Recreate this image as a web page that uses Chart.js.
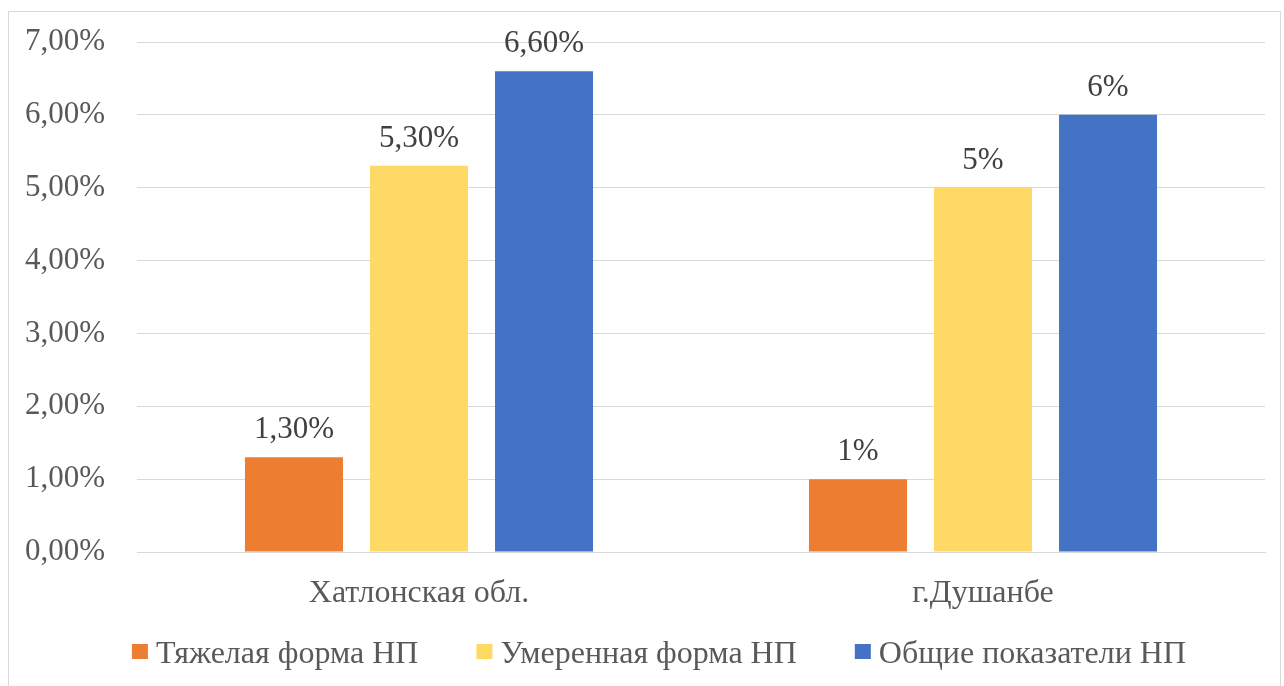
<!DOCTYPE html>
<html>
<head>
<meta charset="utf-8">
<script src="https://cdn.jsdelivr.net/npm/chart.js@4"></script>
<style>
    html, body { margin: 0; padding: 0; background: #fff; }
    #frame { position: absolute; left: 8px; top: 11px; width: 1271px; height: 680px; border: 1px solid #d9d9d9; }
    #wrap { position: absolute; left: 0; top: 0; width: 1284px; height: 686px; }
</style>
</head>
<body>
<div id="frame"></div>
<div id="wrap"><canvas id="canvas"></canvas></div>
<script>
// Data (values in percent)
const categories = ['Хатлонская обл.', 'г.Душанбе'];
const seriesNames = ['Тяжелая форма НП', 'Умеренная форма НП', 'Общие показатели НП'];
const severeValues = [1.3, 1.0];
const moderateValues = [5.3, 5.0];
const totalValues = [6.6, 6.0];
// data labels exactly as printed on the chart
const severeLabels = ['1,30%', '1%'];
const moderateLabels = ['5,30%', '5%'];
const totalLabels = ['6,60%', '6%'];
const yTicks = [0, 1, 2, 3, 4, 5, 6, 7];

const FONT = '"Liberation Serif", "Times New Roman", serif';
const colors = ['#ED7D31', '#FFD966', '#4472C4'];

// Draws the value above each bar
const barLabels = {
    id: 'barLabels',
    afterDatasetsDraw(chart) {
        const ctx = chart.ctx;
        ctx.save();
        ctx.font = '31px ' + FONT;
        ctx.fillStyle = '#404040';
        ctx.textAlign = 'center';
        ctx.textBaseline = 'alphabetic';
        chart.data.datasets.forEach((ds, i) => {
            chart.getDatasetMeta(i).data.forEach((bar, j) => {
                ctx.fillText(ds.valueLabels[j], bar.x, bar.y - 19);
            });
        });
        ctx.restore();
    }
};

// Legend row at the bottom, drawn by hand to get the spacing right
const bottomLegend = {
    id: 'bottomLegend',
    afterDraw(chart) {
        const ctx = chart.ctx;
        ctx.save();
        ctx.font = '32px ' + FONT;
        const box = 16, boxGap = 8, itemGap = 58;
        const widths = chart.data.datasets.map(ds => ctx.measureText(ds.label).width);
        const total = widths.reduce((s, w) => s + w + box + boxGap, 0) + itemGap * (widths.length - 1);
        let x = chart.width / 2 + 17 - total / 2;
        const baseline = 663;
        chart.data.datasets.forEach((ds, i) => {
            ctx.fillStyle = ds.backgroundColor;
            ctx.fillRect(x, 644, box, 15);
            ctx.fillStyle = '#595959';
            ctx.textBaseline = 'alphabetic';
            ctx.fillText(ds.label, x + box + boxGap, baseline);
            x += box + boxGap + widths[i] + itemGap;
        });
        ctx.restore();
    }
};

new Chart(document.getElementById('canvas'), {
    type: 'bar',
    data: {
        labels: categories,
        datasets: [
            { label: seriesNames[0], data: severeValues, valueLabels: severeLabels, backgroundColor: colors[0] },
            { label: seriesNames[1], data: moderateValues, valueLabels: moderateLabels, backgroundColor: colors[1] },
            { label: seriesNames[2], data: totalValues, valueLabels: totalLabels, backgroundColor: colors[2] }
        ]
    },
    options: {
        responsive: true,
        maintainAspectRatio: false,
        animation: false,
        categoryPercentage: 0.665,
        barPercentage: 0.784,
        layout: { padding: { left: 0, right: 19, top: 42, bottom: 0 } },
        plugins: {
            legend: { display: false },
            tooltip: { enabled: false }
        },
        scales: {
            x: {
                grid: { display: false },
                border: { color: '#d9d9d9', width: 1 },
                ticks: { color: '#595959', font: { family: FONT, size: 32 }, padding: 14 },
                afterFit: (scale) => { scale.height = 134; }
            },
            y: {
                min: 0,
                max: 7,
                afterBuildTicks: (scale) => { scale.ticks = yTicks.map(v => ({ value: v })); },
                grid: { color: '#d9d9d9', lineWidth: 1, drawTicks: false },
                border: { display: false },
                ticks: {
                    color: '#595959',
                    font: { family: FONT, size: 31 },
                    padding: 32,
                    callback: (v) => v.toFixed(2).replace('.', ',') + '%'
                },
                afterFit: (scale) => { scale.width = 137; scale.paddingTop = 0; scale.paddingBottom = 0; }
            }
        }
    },
    plugins: [barLabels, bottomLegend]
});
</script>
</body>
</html>
